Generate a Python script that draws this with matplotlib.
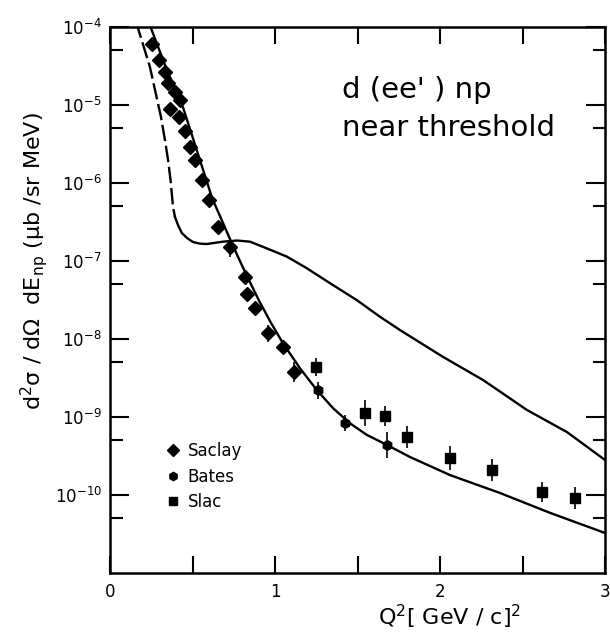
import numpy as np
import matplotlib
matplotlib.use('Agg')
import matplotlib.pyplot as plt
from matplotlib.lines import Line2D
from matplotlib.ticker import FixedLocator, NullFormatter, FuncFormatter

# Saclay data (Q^2 in (GeV/c)^2, cross section in ub/sr MeV)
saclay_q2 = [0.255, 0.299, 0.333, 0.353, 0.394, 0.424, 0.364, 0.420, 0.452, 0.482,
             0.518, 0.556, 0.603, 0.652, 0.730, 0.818, 0.833, 0.879, 0.959, 1.047, 1.118]
saclay_xs = [6.05e-5, 3.78e-5, 2.67e-5, 1.90e-5, 1.48e-5, 1.16e-5, 8.8e-6, 7.1e-6, 4.65e-6, 2.92e-6,
             1.97e-6, 1.08e-6, 6.05e-7, 2.75e-7, 1.49e-7, 6.3e-8, 3.78e-8, 2.49e-8, 1.18e-8, 7.8e-9, 3.81e-9]
saclay_err = [1.0, 1.0, 1.0, 1.0, 1.0, 1.0, 1.0, 1.0, 1.0, 1.0,
              1.0, 1.0, 1.0, 1.0, 1.34, 1.0, 1.0, 1.0, 1.30, 1.0, 1.34]

# Bates data
bates_q2 = [1.262, 1.424, 1.677]
bates_xs = [2.19e-9, 8.3e-10, 4.4e-10]
bates_err = [1.27, 1.27, 1.47]

# Slac data
slac_q2 = [1.248, 1.545, 1.664, 1.802, 2.061, 2.317, 2.616, 2.818]
slac_xs = [4.4e-9, 1.14e-9, 1.03e-9, 5.6e-10, 2.95e-10, 2.09e-10, 1.10e-10, 9.1e-11]
slac_err = [1.30, 1.47, 1.34, 1.38, 1.42, 1.38, 1.34, 1.38]

# steep curve through the data
curve_a_q2 = [0.236, 0.248, 0.345, 0.442, 0.545, 0.620, 0.687, 0.738, 0.820, 0.900,
              0.975, 1.050, 1.152, 1.253, 1.353, 1.455, 1.556, 1.677, 1.818, 2.061,
              2.364, 2.667, 3.0]
curve_a_xs = [1.16e-4, 9.7e-5, 2.81e-5, 9.4e-6, 1.97e-6, 6.3e-7, 3.0e-7, 1.69e-7, 7.1e-8, 3.2e-8,
              1.62e-8, 8.7e-9, 4.2e-9, 2.22e-9, 1.29e-9, 8.3e-10, 5.9e-10, 4.4e-10, 3.07e-10, 1.80e-10,
              1.06e-10, 5.9e-11, 3.26e-11]

# curve with plateau (dashed at low Q^2)
curve_b_q2 = [0.158, 0.242, 0.309, 0.333, 0.352, 0.367, 0.382, 0.394, 0.412, 0.435,
              0.467, 0.503, 0.545, 0.586, 0.685, 0.770, 0.848, 0.927, 1.071, 1.192,
              1.333, 1.495, 1.636, 1.758, 2.018, 2.261, 2.527, 2.770, 3.0]
curve_b_xs = [1.16e-4, 3.07e-5, 7.0e-6, 3.56e-6, 1.97e-6, 1.09e-6, 4.92e-7, 3.66e-7, 2.9e-7, 2.29e-7,
              1.97e-7, 1.75e-7, 1.67e-7, 1.65e-7, 1.77e-7, 1.83e-7, 1.77e-7, 1.52e-7, 1.14e-7, 8.1e-8,
              5.2e-8, 3.16e-8, 1.93e-8, 1.30e-8, 5.9e-9, 2.98e-9, 1.23e-9, 6.4e-10, 2.81e-10]
curve_b_dash_end = 7   # index where the dashed part stops

y_ticks = [1e-10, 1e-9, 1e-8, 1e-7, 1e-6, 1e-5, 1e-4]
y_minor = [5e-11, 5e-10, 5e-9, 5e-8, 5e-7, 5e-6, 5e-5]


def _yerr(xs, fac):
    xs = np.array(xs)
    fac = np.array(fac)
    return [xs - xs / fac, xs * fac - xs]


fig = plt.figure(figsize=(6.1, 6.32), dpi=100)
ax = fig.add_axes([110 / 610, 59 / 632, 495 / 610, 546 / 632])

# curves
ax.plot(curve_a_q2, curve_a_xs, color='k', lw=1.7)
ax.plot(curve_b_q2[:curve_b_dash_end + 1], curve_b_xs[:curve_b_dash_end + 1],
        color='k', lw=1.7, linestyle=(0, (7, 2)))
ax.plot(curve_b_q2[curve_b_dash_end:], curve_b_xs[curve_b_dash_end:], color='k', lw=1.7)

# data
ax.errorbar(saclay_q2, saclay_xs, yerr=_yerr(saclay_xs, saclay_err), fmt='D', ms=7,
            color='k', elinewidth=1.2, capsize=0)
ax.errorbar(bates_q2, bates_xs, yerr=_yerr(bates_xs, bates_err), fmt='h', ms=7,
            color='k', elinewidth=1.2, capsize=0)
ax.errorbar(slac_q2, slac_xs, yerr=_yerr(slac_xs, slac_err), fmt='s', ms=7,
            color='k', elinewidth=1.2, capsize=0)

ax.set_yscale('log')
ax.set_xlim(0, 3)
ax.set_ylim(1e-11, 1e-4)

# x ticks every 0.5, labels on integers only
ax.xaxis.set_major_locator(FixedLocator([0, 1, 2, 3]))
ax.xaxis.set_minor_locator(FixedLocator([0.5, 1.5, 2.5]))
ax.xaxis.set_major_formatter(FuncFormatter(lambda v, p: '%d' % v))
ax.yaxis.set_major_locator(FixedLocator(y_ticks))
ax.yaxis.set_minor_locator(FixedLocator(y_minor))
ax.yaxis.set_major_formatter(FuncFormatter(lambda v, p: r'$10^{%d}$' % round(np.log10(v))))
ax.yaxis.set_minor_formatter(NullFormatter())

ax.tick_params(which='both', direction='in', top=True, right=True, width=1.5, colors='k')
ax.tick_params(axis='y', which='major', length=14, labelsize=12, pad=6)
ax.tick_params(axis='y', which='minor', length=9)
ax.tick_params(axis='x', which='both', length=12, labelsize=12, pad=7)
for s in ax.spines.values():
    s.set_linewidth(1.8)

handles = [Line2D([], [], ls='none', marker='D', ms=6.5, color='k'),
           Line2D([], [], ls='none', marker='h', ms=6, color='k'),
           Line2D([], [], ls='none', marker='s', ms=6, color='k')]
ax.legend(handles, ['Saclay', 'Bates', 'Slac'], loc='upper left', bbox_to_anchor=(0.093, 0.255),
          frameon=False, fontsize=12, handlelength=1.0, handletextpad=0.4, labelspacing=0.45,
          borderpad=0)

ax.text(0.469, 0.91, "d (ee' ) np\nnear threshold", transform=ax.transAxes,
        fontsize=21, va='top', ha='left', linespacing=1.45)

fig.text(34 / 610, (632 - 261) / 632, 'd$^2$σ / dΩ  dE$_{\\mathrm{np}}$ (μb /sr MeV)',
         rotation=90, ha='center', va='center', fontsize=16)
fig.text(450 / 610, (632 - 617) / 632, r'Q$^2$[ GeV / c]$^2$', ha='center', va='center', fontsize=16)

fig.savefig('out.png', dpi=100)
